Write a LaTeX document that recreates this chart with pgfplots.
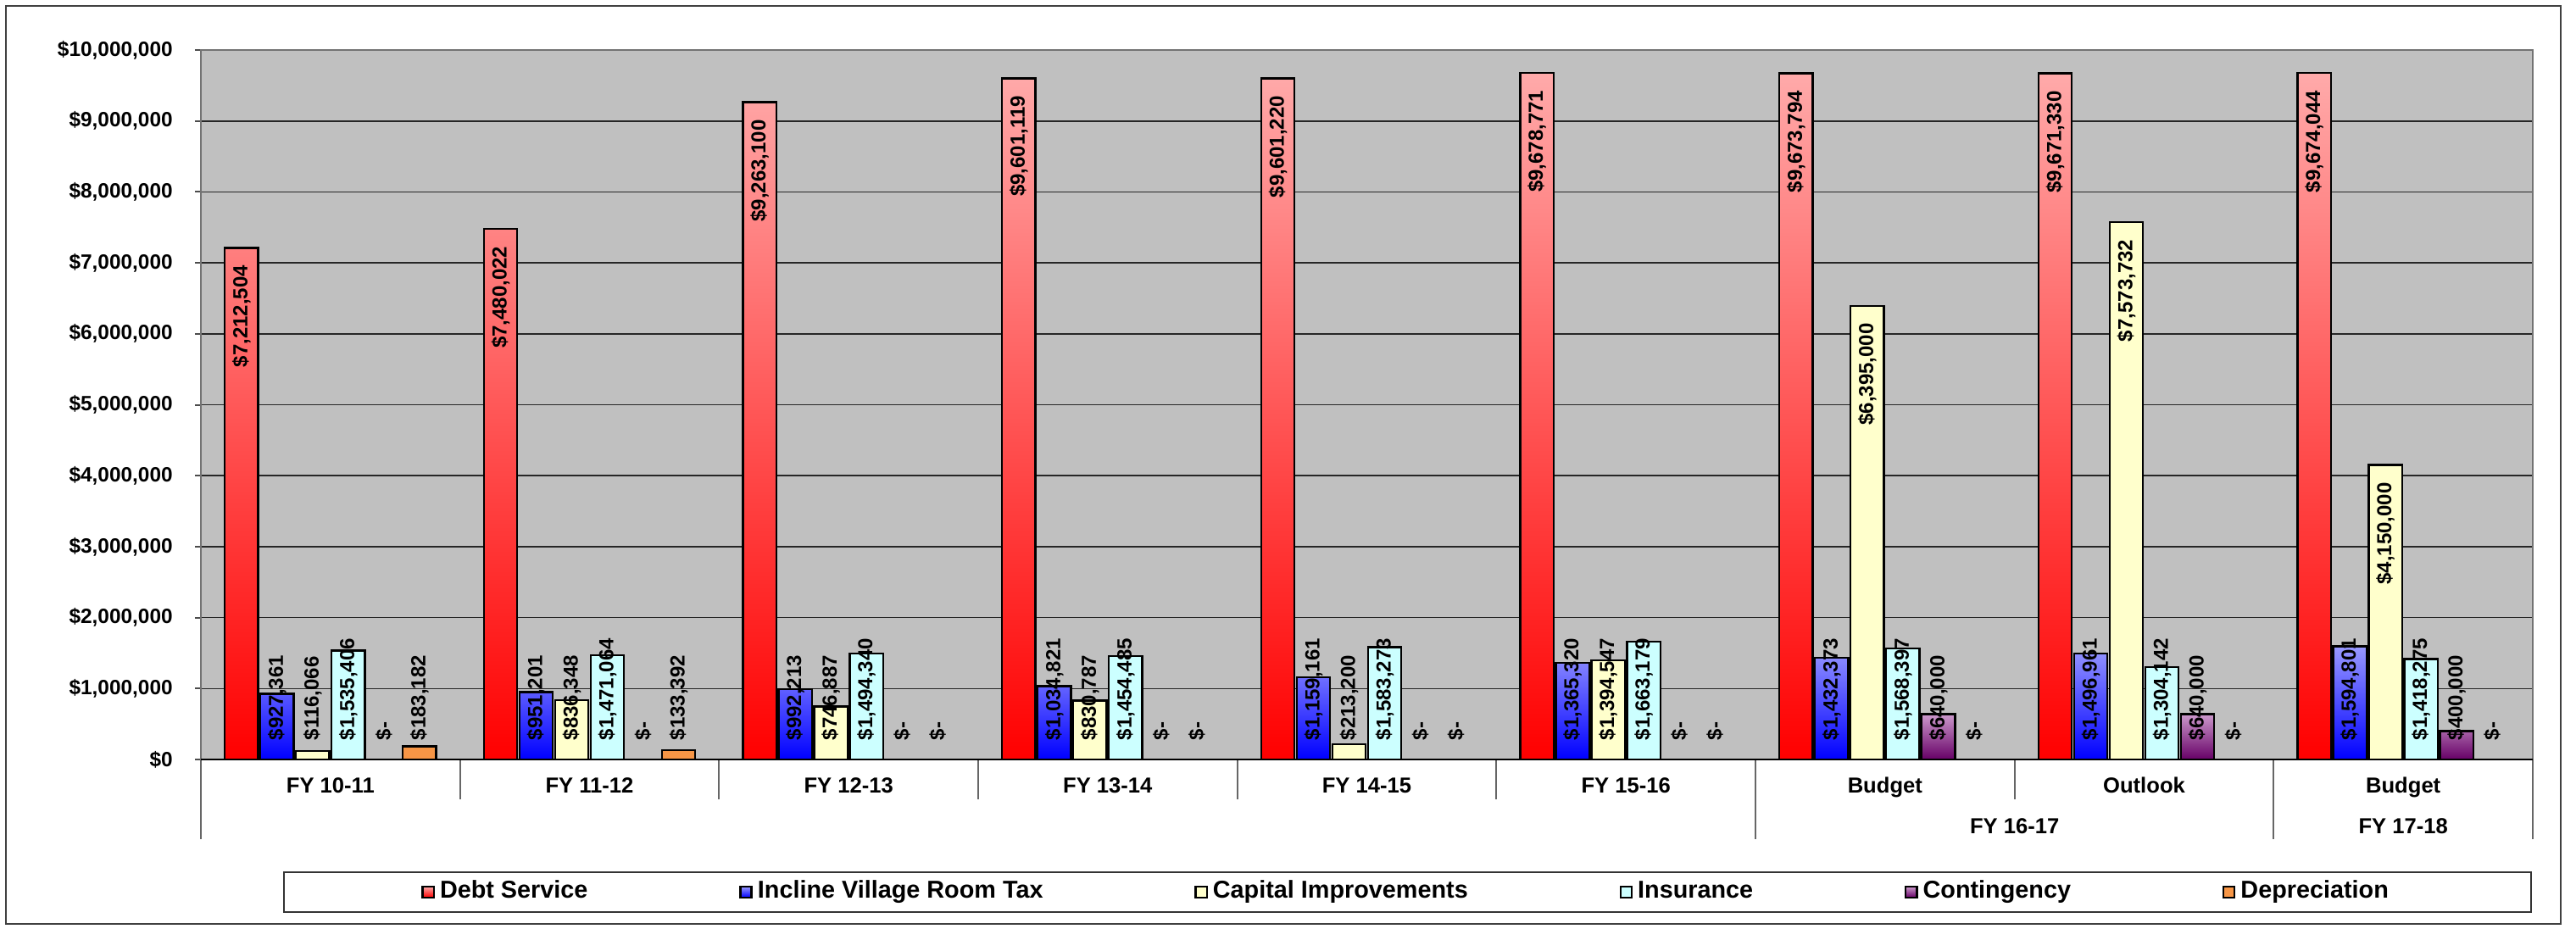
\documentclass[border=0pt]{standalone}
\usepackage{fontspec}
\setmainfont{Liberation Sans}
\usepackage{pgfplots}
\usepackage{pgfplotstable}
\pgfplotsset{compat=1.18}

\definecolor{bggray}{HTML}{C0C0C0}
\definecolor{debtT}{HTML}{FFAAAA}
\definecolor{debtB}{HTML}{FF0000}
\definecolor{ivT}{HTML}{9999FF}
\definecolor{ivB}{HTML}{0000FF}
\definecolor{capC}{HTML}{FFFFCC}
\definecolor{insC}{HTML}{CCFFFF}
\definecolor{conT}{HTML}{CC99CC}
\definecolor{conB}{HTML}{660066}
\definecolor{depC}{HTML}{F79646}

\pgfplotstableread{
idx debt ivrt cap ins cont dep
0 7212504 927361 116066 1535406 0 183182
1 7480022 951201 836348 1471064 0 133392
2 9263100 992213 746887 1494340 0 0
3 9601119 1034821 830787 1454485 0 0
4 9601220 1159161 213200 1583273 0 0
5 9678771 1365320 1394547 1663179 0 0
6 9673794 1432373 6395000 1568397 640000 0
7 9671330 1496961 7573732 1304142 640000 0
8 9674044 1594801 4150000 1418275 400000 0
}\data

\newcommand{\vfont}{\fontsize{6}{7}\selectfont\bfseries}

\pgfplotsset{
 mybar/.style={ybar, bar width=0.129, draw=black, line width=0.6pt,
   legend image code/.code={\draw[##1, draw=black, line width=0.6pt] (0pt,-1.6pt) rectangle (3.3pt,1.6pt);}},
 vlab/.style={only marks, mark=none, forget plot, point meta=explicit,
   nodes near coords={\pgfmathfloatifflags{\pgfplotspointmeta}{0}{\$-}{\$\pgfmathprintnumber[fixed,precision=0,1000 sep={,},assume math mode=true]{\pgfplotspointmeta}}},
   every node near coord/.append style={rotate=90, font=\vfont, text=black, inner ysep=0pt}},
 lowlab/.style={vlab, every node near coord/.append style={anchor=west, inner xsep=5.5pt}},
 highlab/.style={vlab, every node near coord/.append style={anchor=east, inner xsep=5pt}},
}

\begin{document}
\begin{tikzpicture}
\useasboundingbox (-59.25pt,-49.75pt) rectangle (700.5pt,224pt);
\draw[black!75, line width=0.5pt] (-57.5pt,-48.5pt) rectangle (696pt,222.25pt);
\begin{axis}[
  at={(0pt,0pt)}, anchor=south west, scale only axis,
  width=687.75pt, height=209.25pt,
  xmin=-0.5, xmax=8.5, ymin=0, ymax=10000000,
  axis background/.style={fill=bggray},
  axis line style={draw=gray!90!black, line width=0.7pt},
  ymajorgrids, major grid style={black!85, line width=0.4pt},
  ytick={0,1000000,2000000,3000000,4000000,5000000,6000000,7000000,8000000,9000000,10000000},
  scaled y ticks=false,
  yticklabel={\$\pgfmathprintnumber[fixed,precision=0,1000 sep={,},assume math mode=true]{\tick}},
  yticklabel style={font=\fontsize{6.1}{7}\selectfont\bfseries, xshift=-3pt},
  xtick={0,1,2,3,4,5,6,7,8},
  xticklabels={FY 10-11,FY 11-12,FY 12-13,FY 13-14,FY 14-15,FY 15-16,Budget,Outlook,Budget},
  xticklabel style={font=\fontsize{6.4}{7}\selectfont\bfseries, anchor=base, yshift=-8pt},
  minor xtick={0.5,1.5,2.5,3.5,4.5,6.5},
  minor tick length=11.75pt,
  extra x ticks={-0.5,5.5,7.5,8.5},
  extra x tick labels={},
  extra x tick style={major tick length=23.5pt, xtick style={draw=black!60, line width=0.5pt}},
  major tick length=1.8pt,
  tick align=outside,
  tick pos=left,
  xtick style={draw=none},
  minor x tick style={draw=black!60, line width=0.5pt},
  ytick style={draw=black!70, line width=0.5pt},
  clip=false,
  legend columns=6,
  legend cell align=left,
  legend style={at={(0.03526,-0.1577)}, anchor=north west, draw=black!80, line width=0.5pt, fill=white,
    font=\fontsize{7.2}{8}\selectfont\bfseries, inner xsep=40.6pt, inner ysep=0.5pt,
    nodes={inner xsep=1.5pt, inner ysep=2pt},
    /tikz/every even column/.append style={column sep=43.2pt}},
]
\addplot[mybar, bar shift=-0.3435, top color=debtT, bottom color=debtB] table[x=idx,y=debt]{\data};
\addlegendentry{Debt Service}
\addplot[mybar, bar shift=-0.2061, top color=ivT, bottom color=ivB] table[x=idx,y=ivrt]{\data};
\addlegendentry{Incline Village Room Tax}
\addplot[mybar, bar shift=-0.0687, fill=capC] table[x=idx,y=cap]{\data};
\addlegendentry{Capital Improvements}
\addplot[mybar, bar shift=0.0687, fill=insC] table[x=idx,y=ins]{\data};
\addlegendentry{Insurance}
\addplot[mybar, bar shift=0.2061, top color=conT, bottom color=conB] table[x=idx,y=cont]{\data};
\addlegendentry{Contingency}
\addplot[mybar, bar shift=0.3435, fill=depC] table[x=idx,y=dep]{\data};
\addlegendentry{Depreciation}

\addplot[highlab] table[x expr=\thisrow{idx}-0.3435, y=debt, meta=debt]{\data};
\addplot[lowlab] table[x expr=\thisrow{idx}-0.2061, y expr=0, meta=ivrt]{\data};
\addplot[lowlab, restrict x to domain=-1:5.5] table[x expr=\thisrow{idx}-0.0687, y expr=0, meta=cap]{\data};
\addplot[highlab, restrict x to domain=5.5:9] table[x expr=\thisrow{idx}-0.0687, y=cap, meta=cap]{\data};
\addplot[lowlab] table[x expr=\thisrow{idx}+0.0687, y expr=0, meta=ins]{\data};
\addplot[lowlab] table[x expr=\thisrow{idx}+0.2061, y expr=0, meta=cont]{\data};
\addplot[lowlab] table[x expr=\thisrow{idx}+0.3435, y expr=0, meta=dep]{\data};

\draw[black, line width=0.7pt] (rel axis cs:0,0) -- (rel axis cs:1,0);
\node[font=\fontsize{6.4}{7}\selectfont\bfseries, anchor=base] at ([yshift=-21.75pt]axis cs:6.5,0) {FY 16-17};
\node[font=\fontsize{6.4}{7}\selectfont\bfseries, anchor=base] at ([yshift=-21.75pt]axis cs:8,0) {FY 17-18};
\end{axis}
\end{tikzpicture}
\end{document}
